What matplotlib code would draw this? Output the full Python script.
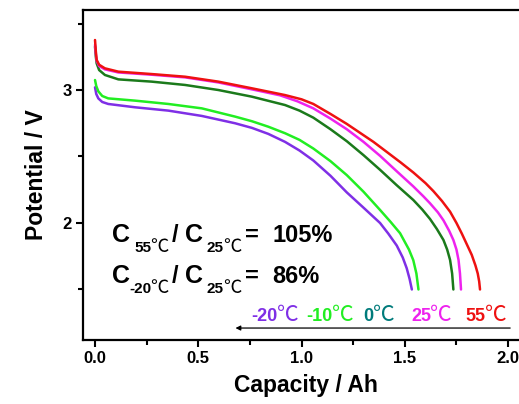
import matplotlib
matplotlib.use("Agg")
import matplotlib.pyplot as plt
from matplotlib.ticker import MultipleLocator

plt.rcParams["font.family"] = ["Liberation Sans", "Noto Sans CJK SC", "DejaVu Sans"]
plt.rcParams["font.weight"] = "bold"

# discharge curves: capacity (Ah) vs potential (V)
cap_55 = [0.0, 0.004, 0.008, 0.02, 0.048, 0.113, 0.274, 0.436, 0.597, 0.759, 0.92, 1.0,
          1.057, 1.14, 1.219, 1.348, 1.412, 1.48, 1.541, 1.60, 1.638, 1.68, 1.719, 1.75,
          1.776, 1.80, 1.824, 1.842, 1.853, 1.86, 1.864]
v_55 = [3.376, 3.29, 3.226, 3.19, 3.163, 3.138, 3.12, 3.10, 3.063, 3.013, 2.962, 2.93,
        2.895, 2.82, 2.745, 2.61, 2.535, 2.455, 2.38, 2.30, 2.24, 2.165, 2.085, 2.00,
        1.92, 1.84, 1.76, 1.68, 1.62, 1.56, 1.50]

cap_25 = [0.0, 0.004, 0.008, 0.02, 0.048, 0.113, 0.274, 0.436, 0.597, 0.759, 0.896, 0.98,
          1.057, 1.14, 1.219, 1.30, 1.380, 1.46, 1.541, 1.59, 1.622, 1.66, 1.687, 1.715,
          1.735, 1.750, 1.760, 1.767, 1.772]
v_25 = [3.34, 3.27, 3.22, 3.18, 3.155, 3.132, 3.115, 3.095, 3.057, 3.005, 2.96, 2.915,
        2.862, 2.785, 2.705, 2.61, 2.505, 2.39, 2.275, 2.20, 2.148, 2.08, 2.02, 1.94,
        1.872, 1.80, 1.722, 1.62, 1.50]

cap_0 = [0.0, 0.004, 0.008, 0.02, 0.048, 0.113, 0.274, 0.436, 0.597, 0.759, 0.92, 0.99,
         1.057, 1.14, 1.219, 1.30, 1.380, 1.46, 1.541, 1.585, 1.622, 1.655, 1.687, 1.705,
         1.719, 1.729, 1.735]
v_0 = [3.326, 3.25, 3.20, 3.15, 3.113, 3.08, 3.063, 3.038, 3.0, 2.95, 2.887, 2.845,
       2.792, 2.705, 2.615, 2.51, 2.40, 2.285, 2.173, 2.10, 2.03, 1.955, 1.872, 1.80,
       1.722, 1.62, 1.50]

cap_m10 = [0.0, 0.006, 0.016, 0.035, 0.064, 0.194, 0.355, 0.517, 0.678, 0.76, 0.839, 0.92,
           0.99, 1.057, 1.14, 1.219, 1.30, 1.380, 1.43, 1.477, 1.52, 1.541, 1.556, 1.566]
v_m10 = [3.075, 3.03, 2.99, 2.955, 2.937, 2.92, 2.895, 2.862, 2.80, 2.765, 2.724, 2.675,
         2.625, 2.56, 2.465, 2.36, 2.235, 2.098, 2.01, 1.923, 1.80, 1.72, 1.62, 1.50]

cap_m20 = [0.0, 0.006, 0.016, 0.035, 0.064, 0.194, 0.355, 0.517, 0.678, 0.76, 0.839, 0.92,
           0.99, 1.057, 1.14, 1.219, 1.30, 1.380, 1.42, 1.461, 1.49, 1.509, 1.523, 1.534]
v_m20 = [3.02, 2.97, 2.937, 2.91, 2.895, 2.87, 2.845, 2.805, 2.75, 2.715, 2.67, 2.61,
         2.545, 2.47, 2.355, 2.23, 2.115, 2.0, 1.92, 1.83, 1.74, 1.66, 1.58, 1.50]

temps = ["-20", "-10", "0", "25", "55"]
curve_colors = ["#7f2fe6", "#22ee22", "#1b7a1b", "#ee22ee", "#ee1111"]
label_colors = ["#7f2fe6", "#22ee22", "#007b7b", "#ee22ee", "#ee1111"]
curves = [(cap_m20, v_m20), (cap_m10, v_m10), (cap_0, v_0), (cap_25, v_25), (cap_55, v_55)]

ratio_55 = 105
ratio_m20 = 86

fig = plt.figure(figsize=(5.19, 4.04), dpi=100)
ax = fig.add_axes([0.1592, 0.1584, 0.8596, 0.8163])

for (c, v), col in zip(curves, curve_colors):
    ax.plot(c, v, color=col, lw=1.8, solid_capstyle="round", solid_joinstyle="round")

ax.set_xlim(-0.06, 2.1)
ax.set_ylim(1.12, 3.6)
ax.xaxis.set_major_locator(MultipleLocator(0.5))
ax.xaxis.set_minor_locator(MultipleLocator(0.25))
ax.yaxis.set_major_locator(MultipleLocator(1))
ax.yaxis.set_minor_locator(MultipleLocator(0.5))
ax.tick_params(which="both", direction="out", width=1.5, labelsize=12, pad=3)
ax.tick_params(which="major", length=5)
ax.tick_params(which="minor", length=3.5)
ax.set_xticks([0.0, 0.5, 1.0, 1.5, 2.0])
ax.set_xticklabels(["0.0", "0.5", "1.0", "1.5", "2.0"])
ax.set_yticks([2, 3])
ax.set_yticklabels(["2", "3"])
for s in ax.spines.values():
    s.set_linewidth(1.6)
ax.spines["right"].set_visible(False)

ax.set_xlabel("Capacity / Ah", fontsize=16.5, fontweight="bold", labelpad=6)
ax.set_ylabel("Potential / V", fontsize=16.5, fontweight="bold", labelpad=10)

DEG = dict(family=["Noto Sans CJK SC", "DejaVu Sans"], fontweight="normal")


def with_deg(x, y, num, size, color="black"):
    # bold number followed by a thin degree-Celsius sign on the same baseline
    t = ax.text(x, y, num, fontsize=size, fontweight="bold", color=color,
                ha="left", va="baseline")
    ax.annotate("\u2103", xy=(1, 0), xycoords=t, xytext=(-0.5, 0.21 * size),
                textcoords="offset points", fontsize=size * 1.2, color=color,
                ha="left", va="baseline", **DEG)
    return t


# capacity ratio annotations
for y, ysub, sub, ratio in [(1.86, 1.78, "55", ratio_55), (1.55, 1.47, "-20", ratio_m20)]:
    ax.text(0.08, y, "C", fontsize=18, ha="left", va="baseline")
    with_deg(0.19 if sub == "55" else 0.165, ysub, sub, 11)
    ax.text(0.39, y, "/", fontsize=17, ha="center", va="baseline")
    ax.text(0.435, y, "C", fontsize=18, ha="left", va="baseline")
    with_deg(0.54, ysub, "25", 11)
    ax.text(0.76, y, "=", fontsize=17, ha="center", va="baseline")
    ax.text(0.86, y, f"{ratio}%", fontsize=17, ha="left", va="baseline")

# temperature labels and arrow
label_x = [0.755, 1.025, 1.30, 1.53, 1.795]
for x, t, col in zip(label_x, temps, label_colors):
    with_deg(x, 1.265, t, 13, color=col)

ax.annotate("", xy=(0.68, 1.21), xytext=(2.01, 1.21),
            arrowprops=dict(arrowstyle="-|>", color="black", lw=0.9,
                            mutation_scale=7, shrinkA=0, shrinkB=0))

fig.savefig("out.png", dpi=100, facecolor="white")
